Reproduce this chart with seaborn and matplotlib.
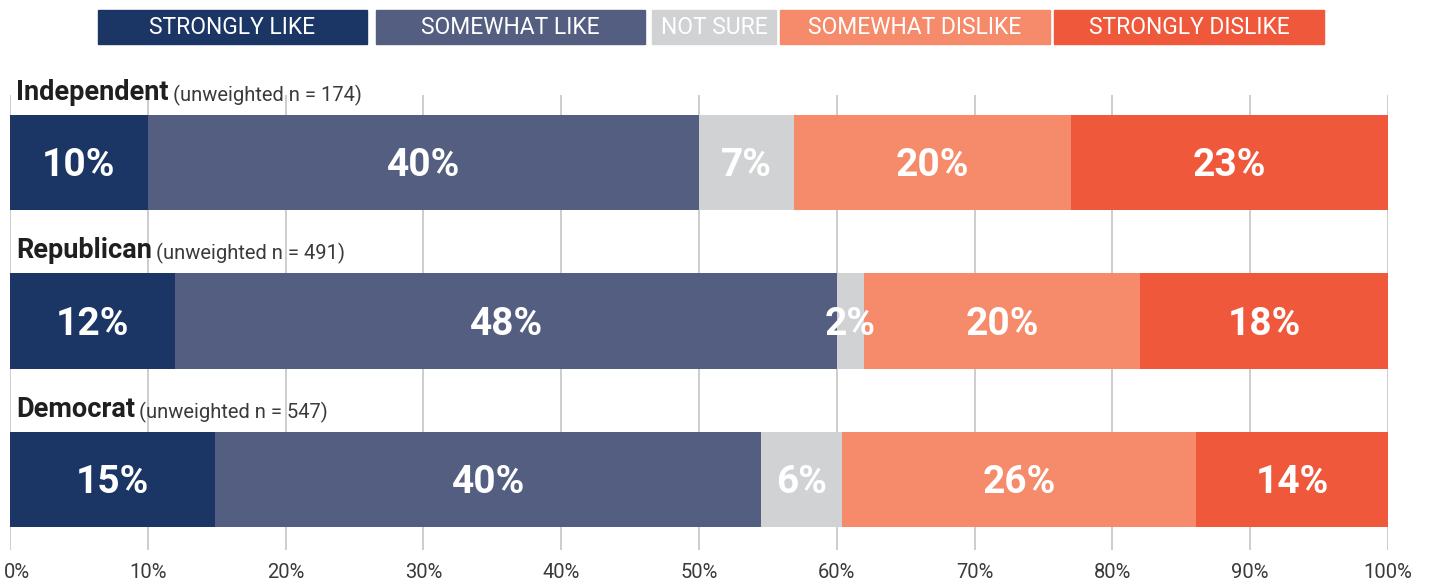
import matplotlib
matplotlib.use("Agg")
import matplotlib.pyplot as plt
from matplotlib.patches import Rectangle
import matplotlib.transforms as mtransforms
import seaborn as sns
import pandas as pd
import numpy as np

groups = ["Independent", "Republican", "Democrat"]
subtitles = ["(unweighted n = 174)", "(unweighted n = 491)", "(unweighted n = 547)"]
categories = ["STRONGLY LIKE", "SOMEWHAT LIKE", "NOT SURE", "SOMEWHAT DISLIKE", "STRONGLY DISLIKE"]
strongly_like = [10.0, 12.0, 14.9]
somewhat_like = [40.0, 48.0, 39.6]
not_sure = [6.9, 2.0, 5.9]
somewhat_dislike = [20.1, 20.0, 25.7]
strongly_dislike = [23.0, 18.0, 13.9]
colors = ["#1b3664", "#535e81", "#d1d2d4", "#f58b6a", "#f0583b"]
xticks = [0, 10, 20, 30, 40, 50, 60, 70, 80, 90, 100]
xticklabels = [f"{t}%" for t in xticks]

series = [strongly_like, somewhat_like, not_sure, somewhat_dislike, strongly_dislike]
vals = np.array(series)  # shape (5, 3)
cum = np.cumsum(vals, axis=0)

sns.set_theme(style="white")
plt.rcParams["font.family"] = ["Roboto", "DejaVu Sans"]

W, H = 1430, 585
fig = plt.figure(figsize=(W / 100, H / 100), dpi=100)
ax = fig.add_axes([10 / W, 1 - 550 / H, 1378 / W, 455 / H])

# stacked bars: draw cumulative totals from the last category back to the first
for i in range(len(categories) - 1, -1, -1):
    df = pd.DataFrame({"group": groups, "value": cum[i]})
    sns.barplot(data=df, x="value", y="group", orient="h", color=colors[i],
                saturation=1, width=0.6, ax=ax, zorder=2, edgecolor="none")

ax.set_xlim(0, 100)
ax.set_ylim(2.445, -0.426)
ax.set_xticks(xticks)
ax.set_xticklabels(xticklabels)
ax.set_yticks([])
ax.set_xlabel("")
ax.set_ylabel("")
for s in ax.spines.values():
    s.set_visible(False)
ax.tick_params(axis="x", length=0, pad=9, labelsize=14.5, labelcolor="#3a3a3a")
ax.grid(axis="x", color="#c9c9c9", linewidth=1.3, zorder=0)
ax.set_axisbelow(True)
first = ax.get_xticklabels()[0]
first.set_transform(first.get_transform() + mtransforms.ScaledTranslation(7 / 100, 0, fig.dpi_scale_trans))

# value labels
for j in range(len(groups)):
    for i in range(len(categories)):
        left = cum[i, j] - vals[i, j]
        xc = left + vals[i, j] / 2
        ax.text(xc, j + 0.02, f"{int(round(vals[i, j]))}%", ha="center", va="center",
                color="white", fontsize=28, fontweight="bold", zorder=5)

# group titles
for j, (g, sub) in enumerate(zip(groups, subtitles)):
    t = ax.text(0.45, j - 0.3 - 0.095, g, ha="left", va="baseline",
                fontsize=19.5, fontweight="bold", color="#1f1f1f", zorder=6)
    ax.annotate(sub, xy=(1, 0), xycoords=t, xytext=(3, 0), textcoords="offset points",
                ha="left", va="bottom", fontsize=14.5, color="#3a3a3a", zorder=6)

# legend boxes (figure pixel positions)
boxes = [(98, 367), (376, 645), (652, 776), (780, 1050), (1054, 1324)]
y0, y1 = 10, 44
for (x0, x1), c, lab in zip(boxes, colors, categories):
    fig.patches.append(Rectangle((x0 / W, 1 - y1 / H), (x1 - x0) / W, (y1 - y0) / H,
                                 transform=fig.transFigure, color=c, zorder=1))
    fig.text((x0 + x1) / 2 / W, 1 - 28 / H, lab, ha="center", va="center",
             color="white", fontsize=16.5, zorder=2)

fig.savefig("out.png", dpi=100)
